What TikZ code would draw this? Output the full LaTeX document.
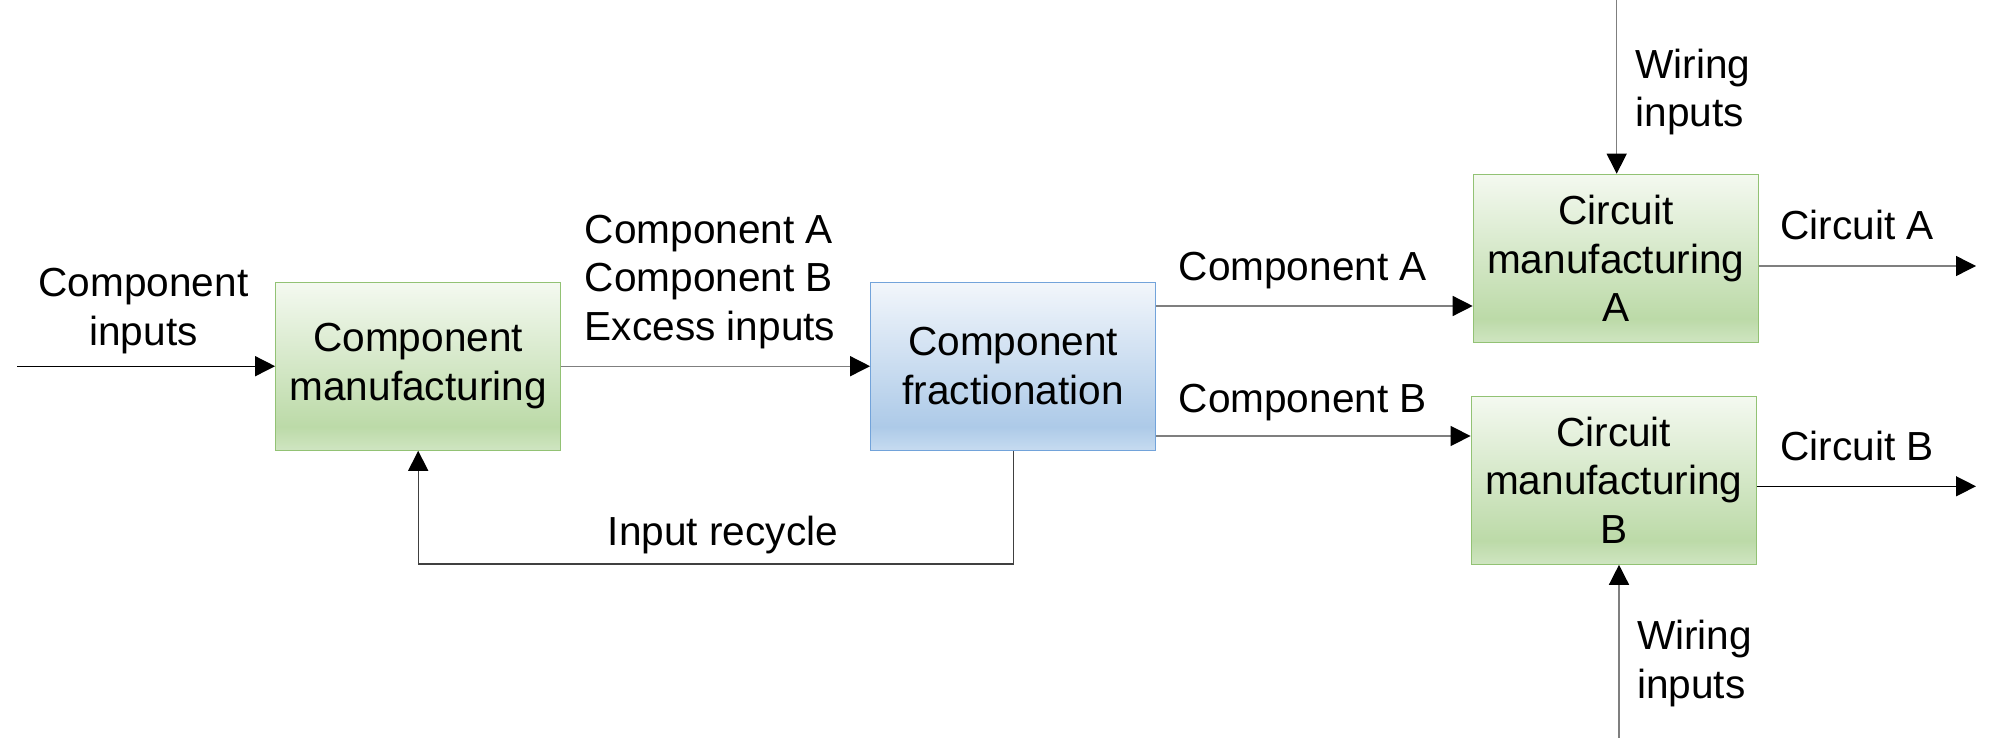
\documentclass[tikz,border=0pt]{standalone}
\usepackage{fontspec}
\setmainfont{Liberation Sans}
\usetikzlibrary{arrows.meta,calc}
\definecolor{gtop}{HTML}{F4F9F0}
\definecolor{gdark}{HTML}{BCDAA8}
\definecolor{gbot}{HTML}{CFE5C1}
\definecolor{gborder}{HTML}{92C274}
\definecolor{btop}{HTML}{F2F6FB}
\definecolor{bdark}{HTML}{ADCAE8}
\definecolor{bbot}{HTML}{C6DBF0}
\definecolor{bborder}{HTML}{72A3DA}
\definecolor{lgray}{HTML}{7F7F7F}
\definecolor{dgray}{HTML}{404040}
\pgfdeclareverticalshading{greenshade}{100bp}{color(0bp)=(gbot); color(25bp)=(gbot); color(32bp)=(gdark); color(75bp)=(gtop); color(100bp)=(gtop)}
\pgfdeclareverticalshading{blueshade}{100bp}{color(0bp)=(bbot); color(25bp)=(bbot); color(32bp)=(bdark); color(75bp)=(btop); color(100bp)=(btop)}
\begin{document}
\begin{tikzpicture}[x=0.5pt,y=-0.5pt,
  every node/.style={font=\fontsize{20.3pt}{24.2pt}\selectfont},
  box/.style={rectangle, minimum width=142.5pt, minimum height=84pt, align=center, inner sep=0pt},
  gbox/.style={box, draw=gborder, line width=0.6pt, shading=greenshade},
  bbox/.style={box, draw=bborder, line width=0.6pt, shading=blueshade},
  lbl/.style={inner sep=0pt, anchor=base west, align=left},
  arr/.style={line width=0.7pt, -{Triangle[length=10pt,width=10pt,color=black]}},
  garr/.style={arr, draw=lgray},
  karr/.style={arr, draw=black}
]
\useasboundingbox (0,0) rectangle (1999,738);

% boxes
\node[gbox] (CM) at (418.2,366.2) {Component\\manufacturing};
\node[bbox] (CF) at (1013.2,366.2) {Component\\fractionation};
\node[gbox] (CA) at (1615.8,258.3) {Circuit\\manufacturing\\A};
\node[gbox] (CB) at (1613.7,480.2) {Circuit\\manufacturing\\B};

% free ends and ports
\coordinate (inS) at (17,366.2);
\coordinate (pA) at (0,306);
\coordinate (pB) at (0,436);
\coordinate (recy) at (0,564);
\coordinate (outA) at (1976,266);
\coordinate (outB) at (1976,486.3);
\coordinate (wTop) at (1616.7,0);
\coordinate (wBot) at (1619,738);

% connectors
\draw[karr] (inS) -- (CM.west);
\draw[garr] (CM.east) -- (CF.west);
\draw[garr] (CF.east |- pA) -- (CA.west |- pA);
\draw[garr] (CF.east |- pB) -- (CB.west |- pB);
\draw[arr, draw=dgray] (CF.south) -- (CF.south |- recy) -| (CM.south);
\draw[garr] (CA.east |- outA) -- (outA);
\draw[karr] (CB.east |- outB) -- (outB);
\draw[garr] (wTop) -- (wTop |- CA.north);
\draw[garr] (wBot) -- (wBot |- CB.south);

% labels (multi-line: base = last line)
\node[inner sep=0pt, anchor=base, align=center] (lin) at (143.5,345) {Component\\inputs};
\node[lbl] (lmix) at (584.4,340) {Component A\\Component B\\Excess inputs};
\node[lbl] (lrec) at (607.4,545) {Input recycle};
\node[lbl] (lcA) at (1178.3,280) {Component A};
\node[lbl] (lcB) at (1178.3,412.7) {Component B};
\node[lbl] (lciA) at (1780,240) {Circuit A};
\node[lbl] (lciB) at (1780,460) {Circuit B};
\node[lbl] (lwT) at (1635,126.7) {Wiring\\inputs};
\node[lbl] (lwB) at (1636.7,698) {Wiring\\inputs};
\end{tikzpicture}
\end{document}
